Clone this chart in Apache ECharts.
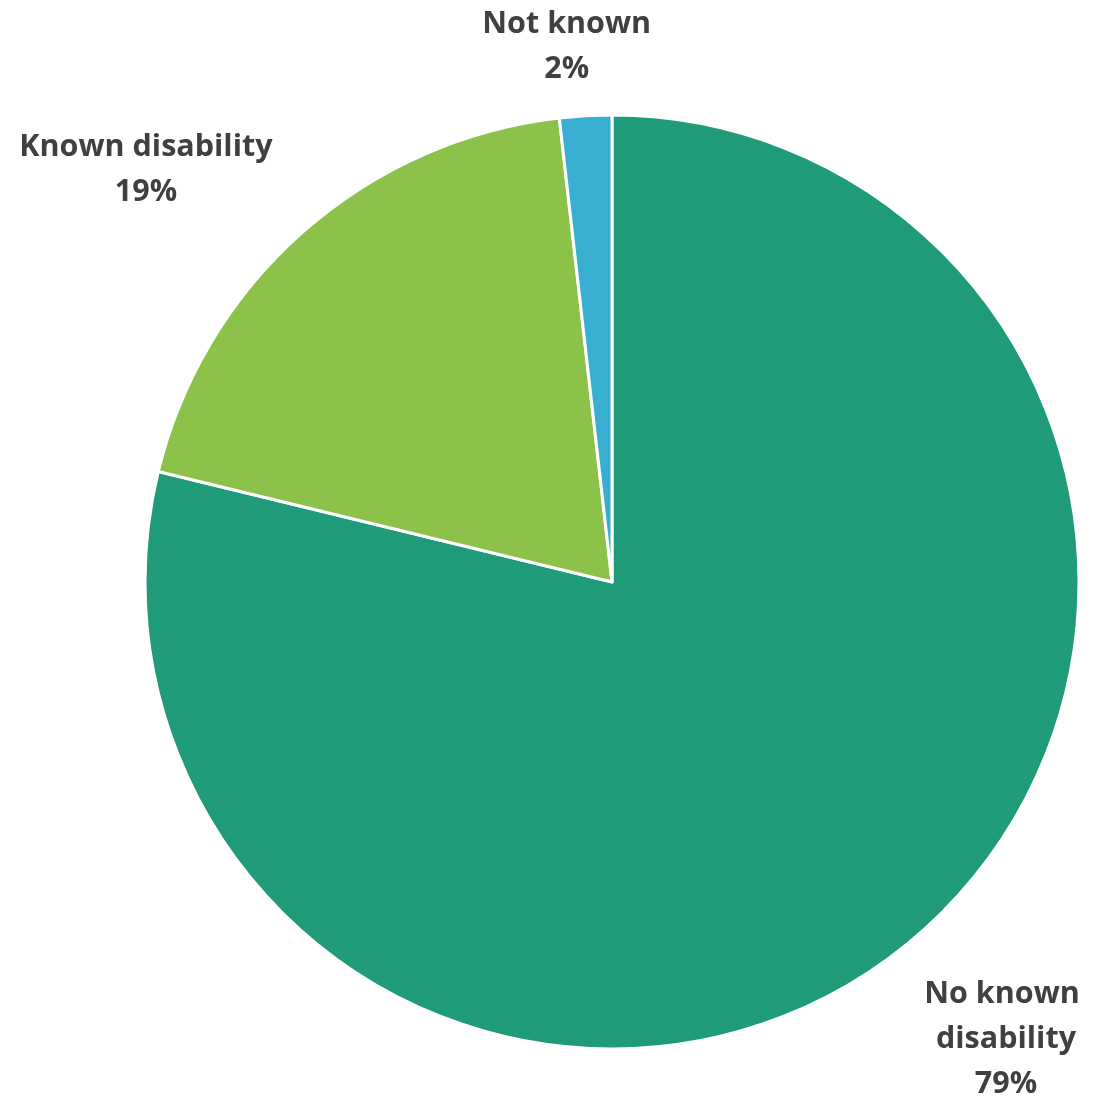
<!DOCTYPE html>
<html>
<head>
<meta charset="utf-8">
<script src="https://cdn.jsdelivr.net/npm/echarts@6/dist/echarts.min.js"></script>
<style>
  html, body { margin: 0; padding: 0; background: #fff; }
  #main { width: 1094px; height: 1103px; }
</style>
</head>
<body>
<div id="main"></div>
<script>
var chart = echarts.init(document.getElementById('main'));

// slices, clockwise from 12 o'clock
var categories = ['No known disability', 'Known disability', 'Not known'];
var shares = [78.8, 19.4, 1.8];
var colors = ['#1f9b7a', '#8cc14a', '#38afd0'];

// how far each label sits out from the rim (leader line lengths, lines hidden)
var lineLen = [114, 82, 69];
var lineLen2 = [30, 98, 10];

var pieData = [];
for (var i = 0; i < categories.length; i++) {
    pieData.push({
        name: categories[i],
        value: shares[i],
        itemStyle: { color: colors[i] },
        labelLine: { length: lineLen[i], length2: lineLen2[i] }
    });
}
// the big slice label wraps on two lines
pieData[0].label = { width: 170, overflow: 'break' };

var option = {
    backgroundColor: '#fff',
    animation: false,
    series: [{
        type: 'pie',
        center: [612, 582],
        radius: 467,
        startAngle: 90,
        clockwise: true,
        percentPrecision: 0,
        avoidLabelOverlap: false,
        data: pieData,
        itemStyle: {
            borderColor: '#fff',
            borderWidth: 3
        },
        label: {
            show: true,
            position: 'outside',
            formatter: '{b}\n{d}%',
            fontFamily: 'Open Sans',
            fontWeight: 'bold',
            fontSize: 30.5,
            lineHeight: 45,
            color: '#404040'
        },
        labelLine: { show: false },
        labelLayout: function () {
            return { align: 'center', verticalAlign: 'middle' };
        }
    }]
};
chart.setOption(option);
</script>
</body>
</html>
